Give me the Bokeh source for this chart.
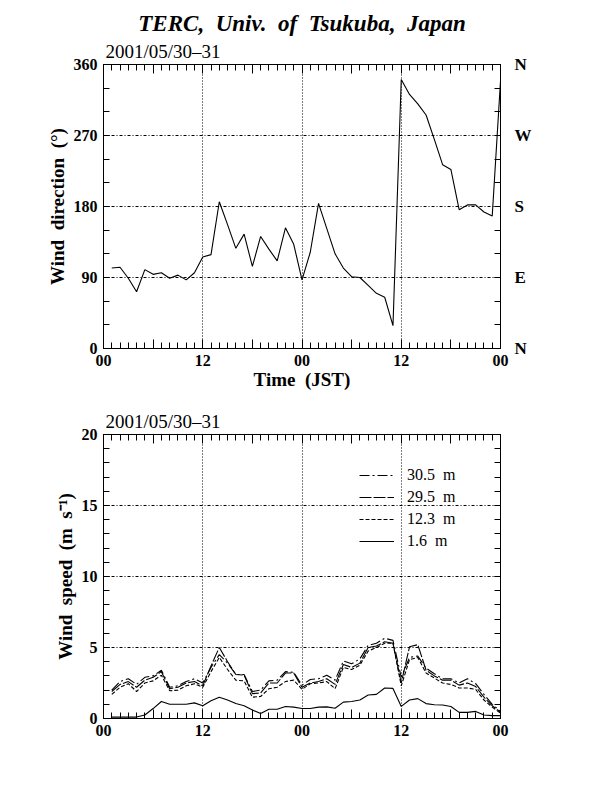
from bokeh.plotting import figure
from bokeh.models import FixedTicker, LinearAxis, Legend, LegendItem, Range1d, ColumnDataSource, Title
from bokeh.layouts import column
from bokeh.embed import file_html
from bokeh.resources import INLINE

# ---------------- data ----------------
hours = list(range(1, 49))

wind_dir = [102, 103, 89, 72, 100, 94, 96, 89, 93, 87, 96, 116,
            119, 186, 157, 127, 145, 104, 142, 126, 111, 153, 132, 87,
            122, 184, 152, 120, 102, 91, 90, 80, 70, 65, 29, 341,
            322, 310, 296, 265, 233, 227, 176, 182, 182, 173, 168, 339]

ws_305 = [2.0, 2.6, 2.8, 2.4, 2.9, 3.0, 3.4, 2.2, 2.3, 2.6, 2.8, 2.5,
          3.6, 4.5, 3.9, 3.1, 3.1, 1.9, 2.0, 2.65, 2.7, 3.3, 3.25, 2.35,
          2.75, 2.8, 3.05, 2.7, 4.05, 3.85, 4.2, 5.15, 5.3, 5.65, 5.5, 2.9,
          4.3, 4.4, 3.55, 3.15, 2.8, 2.8, 2.5, 2.8, 2.45, 1.7, 1.0, 0.5]
ws_295 = [1.9, 2.4, 2.6, 2.2, 2.7, 2.9, 3.3, 2.1, 2.2, 2.5, 2.6, 2.3,
          3.7, 5.0, 4.0, 3.1, 3.05, 1.75, 1.8, 2.5, 2.5, 3.2, 3.2, 2.2,
          2.5, 2.6, 2.8, 2.4, 3.8, 3.6, 3.9, 5.0, 5.1, 5.4, 5.3, 2.5,
          5.05, 5.2, 3.4, 3.0, 2.7, 2.7, 2.35, 2.5, 2.25, 1.5, 0.9, 0.45]
ws_123 = [1.7, 2.2, 2.45, 1.9, 2.5, 2.65, 3.05, 1.95, 2.0, 2.3, 2.45, 2.2,
          3.3, 4.3, 3.45, 2.7, 2.65, 1.5, 1.55, 2.1, 2.2, 2.6, 2.7, 2.05,
          2.45, 2.5, 2.6, 2.1, 3.6, 3.45, 3.75, 4.75, 5.0, 5.3, 5.3, 2.3,
          4.15, 4.3, 3.2, 2.85, 2.5, 2.4, 2.15, 2.15, 2.05, 1.3, 0.8, 0.38]
ws_016 = [0.1, 0.1, 0.1, 0.1, 0.25, 0.7, 1.2, 1.0, 1.0, 1.0, 1.1, 0.9,
          1.25, 1.5, 1.3, 1.05, 0.9, 0.6, 0.35, 0.65, 0.65, 0.85, 0.8, 0.7,
          0.7, 0.8, 0.82, 0.72, 1.15, 1.2, 1.3, 1.65, 1.7, 2.15, 2.12, 0.85,
          1.3, 1.4, 1.05, 0.97, 0.95, 0.85, 0.43, 0.43, 0.5, 0.25, 0.2, 0.2]

NB = "\u00a0 "  # wide word gap as in the original
series_labels = ["30.5" + NB + "m", "29.5" + NB + "m", "12.3" + NB + "m", "1.6" + NB + "m"]
x_tick_labels = {0: "00", 6: "", 12: "12", 18: "", 24: "00", 30: "", 36: "12", 42: "", 48: "00"}
dir_tick_labels = {0: "0", 90: "90", 180: "180", 270: "270", 360: "360"}
compass_labels = {0: "N", 90: "E", 180: "S", 270: "W", 360: "N"}
speed_tick_labels = {0: "0", 5: "5", 10: "10", 15: "15", 20: "20"}

title_text = "TERC," + NB + "Univ." + NB + "of" + NB + "Tsukuba," + NB + "Japan"
date_text = "2001/05/30\u201331"
dir_label = "Wind" + NB + "direction" + NB + "(\u00b0)"
time_label = "Time" + NB + "(JST)"
speed_label = "Wind" + NB + "speed" + NB + "(m" + NB + "s\u207b\u00b9)"

FONT = "Liberation Serif"

src = ColumnDataSource(dict(h=hours, d=wind_dir, a=ws_305, b=ws_295, c=ws_123, e=ws_016))


def style_x(ax, show_labels=True):
    ax.ticker = FixedTicker(ticks=list(range(0, 49, 6)), minor_ticks=list(range(0, 49, 1)))
    ax.major_label_overrides = x_tick_labels
    ax.major_tick_in = 9
    ax.major_tick_out = 0
    ax.minor_tick_in = 6
    ax.minor_tick_out = 0
    ax.axis_line_color = "black"
    ax.major_label_text_font = FONT
    ax.major_label_text_font_style = "bold"
    if show_labels:
        ax.major_label_text_font_size = "16px"
        ax.major_label_text_color = "black"
        ax.major_label_standoff = 6
    else:
        ax.major_label_text_font_size = "2px"
        ax.major_label_text_color = None
        ax.major_label_standoff = 0


def style_y(ax, ticks, minor, overrides, size="16px", standoff=6, show_labels=True):
    ax.ticker = FixedTicker(ticks=ticks, minor_ticks=minor)
    ax.major_label_overrides = overrides
    ax.major_tick_in = 6
    ax.major_tick_out = 0
    ax.minor_tick_in = 6
    ax.minor_tick_out = 0
    ax.axis_line_color = "black"
    ax.major_label_text_font = FONT
    ax.major_label_text_font_style = "bold"
    ax.major_label_text_font_size = size
    ax.major_label_standoff = standoff
    ax.major_label_text_color = "black" if show_labels else None


def base_fig(height, ymax, top, bottom):
    p = figure(width=600, height=height, x_range=Range1d(0, 48), y_range=Range1d(0, ymax),
               output_backend="svg", toolbar_location=None,
               min_border_left=103, min_border_right=100,
               min_border_top=top, min_border_bottom=bottom)
    p.title.text = ""
    p.title.visible = False
    p.outline_line_color = "black"
    p.background_fill_color = "white"
    p.border_fill_color = "white"
    p.xgrid.ticker = FixedTicker(ticks=[12, 24, 36])
    p.xgrid.grid_line_color = "black"
    p.xgrid.grid_line_dash = "1 2"
    p.xgrid.grid_line_width = 1
    p.ygrid.grid_line_color = "black"
    p.ygrid.grid_line_dash = "3 2 1 2"
    p.ygrid.grid_line_width = 1
    return p


def axis_title(ax, text, standoff):
    ax.axis_label = text
    ax.axis_label_text_font = FONT
    ax.axis_label_text_font_style = "bold"
    ax.axis_label_text_font_size = "19px"
    ax.axis_label_text_color = "black"
    ax.axis_label_standoff = standoff


# ---------------- top: wind direction ----------------
p1 = base_fig(403, 360, 64, 55)
p1.ygrid.ticker = FixedTicker(ticks=[90, 180, 270])
style_x(p1.xaxis[0])
style_y(p1.yaxis[0], [0, 90, 180, 270, 360], list(range(0, 361, 30)), dir_tick_labels)
axis_title(p1.xaxis[0], time_label, 0)
axis_title(p1.yaxis[0], dir_label, 3)

top_ax = LinearAxis()
style_x(top_ax, show_labels=False)
p1.add_layout(top_ax, "above")
right_ax = LinearAxis()
style_y(right_ax, [0, 90, 180, 270, 360], list(range(0, 361, 30)), compass_labels, size="17px", standoff=14)
p1.add_layout(right_ax, "right")

p1.add_layout(Title(text=date_text, align="left", offset=2, standoff=6,
                    text_font=FONT, text_font_style="normal", text_font_size="19px",
                    text_color="black"), "above")
p1.add_layout(Title(text=title_text, align="center", offset=14, standoff=0,
                    text_font=FONT, text_font_style="bold italic", text_font_size="23px",
                    text_color="black"), "above")

p1.line("h", "d", source=src, line_color="black", line_width=1.1)

# ---------------- bottom: wind speed ----------------
p2 = base_fig(375, 20, 31, 60)
p2.ygrid.ticker = FixedTicker(ticks=[5, 10, 15])
style_x(p2.xaxis[0])
style_y(p2.yaxis[0], [0, 5, 10, 15, 20], list(range(0, 21, 1)), speed_tick_labels)
axis_title(p2.yaxis[0], speed_label, 3)

top_ax2 = LinearAxis()
style_x(top_ax2, show_labels=False)
p2.add_layout(top_ax2, "above")
right_ax2 = LinearAxis()
style_y(right_ax2, [0, 5, 10, 15, 20], list(range(0, 21, 1)), speed_tick_labels,
        size="2px", standoff=0, show_labels=False)
p2.add_layout(right_ax2, "right")

p2.add_layout(Title(text=date_text, align="left", offset=2, standoff=6,
                    text_font=FONT, text_font_style="normal", text_font_size="19px",
                    text_color="black"), "above")

r_a = p2.line("h", "a", source=src, line_color="black", line_width=1.1, line_dash="10 3 2 3")
r_b = p2.line("h", "b", source=src, line_color="black", line_width=1.1, line_dash="12 2")
r_c = p2.line("h", "c", source=src, line_color="black", line_width=1.1, line_dash="4 2")
r_e = p2.line("h", "e", source=src, line_color="black", line_width=1.1)

legend = Legend(items=[LegendItem(label=series_labels[0], renderers=[r_a]),
                       LegendItem(label=series_labels[1], renderers=[r_b]),
                       LegendItem(label=series_labels[2], renderers=[r_c]),
                       LegendItem(label=series_labels[3], renderers=[r_e])],
                location=(256, 167), orientation="vertical")
legend.border_line_color = None
legend.background_fill_alpha = 0
legend.padding = 0
legend.margin = 0
legend.spacing = 2
legend.glyph_width = 35
legend.glyph_height = 20
legend.label_height = 20
legend.label_standoff = 13
legend.label_text_font = FONT
legend.label_text_font_size = "16px"
legend.label_text_color = "black"
p2.add_layout(legend)

layout = column(p1, p2, spacing=0)
open("out.html", "w").write(file_html(layout, INLINE))
